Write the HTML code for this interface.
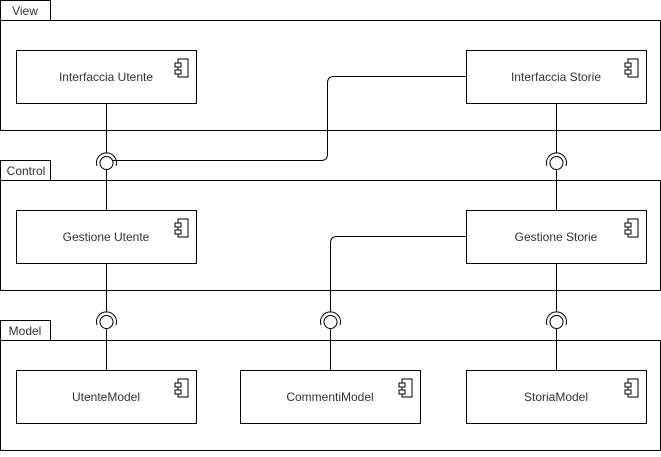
<!DOCTYPE html>
<html><head><style>
body{margin:0;background:#fff}
svg text{font-family:"Liberation Sans",sans-serif;font-size:12px;fill:#333}
</style></head><body>
<svg width="661" height="452" viewBox="0 0 661 452" xmlns="http://www.w3.org/2000/svg">
<defs>
<g id="ic"><rect x="-5" y="-7" width="10" height="18" fill="#fff" stroke="#000"/><rect x="-8" y="-3" width="6" height="4" fill="#fff" stroke="#000"/><rect x="-8" y="4" width="6" height="4" fill="#fff" stroke="#000"/></g>
<g id="sock"><circle cx="0" cy="0" r="6.5" fill="#fff" stroke="#000"/><path d="M-9.5,3 A10,10 0 1 1 9.5,3" fill="none" stroke="#000"/></g>
</defs>
<g stroke="#000" fill="none">
<rect x="0.5" y="0.5" width="50" height="20"/><rect x="0.5" y="20.5" width="660" height="110"/>
<rect x="0.5" y="160.5" width="50" height="20"/><rect x="0.5" y="180.5" width="660" height="110"/>
<rect x="0.5" y="320.5" width="50" height="20"/><rect x="0.5" y="340.5" width="660" height="110"/>
<path d="M106.5,103 V153 M106.5,170 V210 M556.5,103 V153 M556.5,170 V210 M106.5,263 V312 M106.5,329 V370 M556.5,263 V312 M556.5,329 V370 M330.5,329 V370"/>
<path d="M113,160.5 H321 Q327.5,160.5 327.5,154 V83 Q327.5,76.5 334,76.5 H466"/>
<path d="M330.5,312 V243 Q330.5,236.5 337,236.5 H466"/>
</g>
<g fill="#fff" stroke="#000">
<rect x="16.5" y="50.5" width="180" height="53"/><rect x="466.5" y="50.5" width="180" height="53"/>
<rect x="16.5" y="210.5" width="180" height="53"/><rect x="466.5" y="210.5" width="180" height="53"/>
<rect x="16.5" y="370.5" width="180" height="53"/><rect x="240.5" y="370.5" width="180" height="53"/><rect x="466.5" y="370.5" width="180" height="53"/>
</g>
<use href="#ic" x="183" y="66"/><use href="#ic" x="633" y="66"/><use href="#ic" x="183" y="226"/><use href="#ic" x="633" y="226"/>
<use href="#ic" x="183" y="386"/><use href="#ic" x="407" y="386"/><use href="#ic" x="633" y="386"/>
<use href="#sock" x="106.5" y="163"/><use href="#sock" x="556.5" y="163"/>
<use href="#sock" x="106.5" y="322"/><use href="#sock" x="330.5" y="322"/><use href="#sock" x="556.5" y="322"/>
<text x="25" y="15" text-anchor="middle">View</text>
<text x="26" y="175" text-anchor="middle">Control</text>
<text x="25" y="335" text-anchor="middle">Model</text>
<text x="106" y="81" text-anchor="middle">Interfaccia Utente</text>
<text x="556" y="81" text-anchor="middle">Interfaccia Storie</text>
<text x="106" y="241" text-anchor="middle">Gestione Utente</text>
<text x="556" y="241" text-anchor="middle">Gestione Storie</text>
<text x="106" y="401" text-anchor="middle">UtenteModel</text>
<text x="330" y="401" text-anchor="middle">CommentiModel</text>
<text x="556" y="401" text-anchor="middle">StoriaModel</text>
</svg>
</body></html>
